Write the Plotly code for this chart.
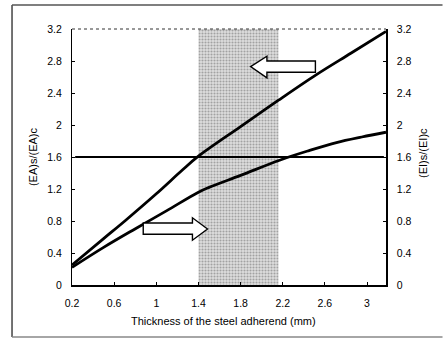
import plotly.graph_objects as go

# ---- data ----
ea_x = [0.2, 0.5, 0.71, 1.0, 1.25, 1.4, 1.8, 2.16, 2.52, 2.85, 3.18]
ea_y = [0.25, 0.58, 0.81, 1.14, 1.44, 1.61, 1.98, 2.31, 2.63, 2.90, 3.17]

ei_x = [0.2, 0.5, 0.81, 1.1, 1.4, 1.5, 1.8, 2.17, 2.45, 2.71, 2.95, 3.18]
ei_y = [0.22, 0.47, 0.71, 0.93, 1.16, 1.22, 1.37, 1.56, 1.68, 1.78, 1.85, 1.91]

ref_x = [0.23, 3.16]
ref_y = [1.6, 1.6]

band_x = [1.4, 2.16]

x_ticks = [0.2, 0.6, 1.0, 1.4, 1.8, 2.2, 2.6, 3.0]
x_ticktext = ["0.2", "0.6", "1", "1.4", "1.8", "2.2", "2.6", "3"]
y_ticks = [0, 0.4, 0.8, 1.2, 1.6, 2.0, 2.4, 2.8, 3.2]
y_ticktext = ["0", "0.4", "0.8", "1.2", "1.6", "2", "2.4", "2.8", "3.2"]

# arrow outlines (data coords)
arrow_left_x = [1.895, 2.05, 2.05, 2.51, 2.51, 2.05, 2.05, 1.895]
arrow_left_y = [2.73, 2.86, 2.80, 2.80, 2.66, 2.66, 2.59, 2.73]
arrow_right_x = [1.486, 1.343, 1.343, 0.876, 0.876, 1.343, 1.343, 1.486]
arrow_right_y = [0.70, 0.84, 0.775, 0.775, 0.635, 0.635, 0.56, 0.70]

FONT = "Liberation Sans, Arial, sans-serif"

fig = go.Figure()

# shaded band
fig.add_trace(go.Scatter(
    x=[band_x[0], band_x[1], band_x[1], band_x[0], band_x[0]],
    y=[0, 0, 3.2, 3.2, 0],
    mode="none", fill="toself",
    fillcolor="#d0d0d0",
    fillpattern=dict(shape=".", fgcolor="#666666", bgcolor="#dedede", size=3, solidity=0.4),
    hoverinfo="skip", showlegend=False))

fig.add_trace(go.Scatter(x=ref_x, y=ref_y, mode="lines",
                         line=dict(color="black", width=2), showlegend=False))
fig.add_trace(go.Scatter(x=ea_x, y=ea_y, mode="lines", line_shape="spline",
                         line=dict(color="black", width=2.8), showlegend=False))
fig.add_trace(go.Scatter(x=ei_x, y=ei_y, mode="lines", line_shape="spline", yaxis="y2",
                         line=dict(color="black", width=2.8), showlegend=False))

def arrow_path(xs, ys):
    p = "M %g,%g " % (xs[0], ys[0])
    for a, b in zip(xs[1:], ys[1:]):
        p += "L %g,%g " % (a, b)
    return p + "Z"

shapes = [
    dict(type="path", path=arrow_path(arrow_left_x, arrow_left_y), xref="x", yref="y",
         fillcolor="white", line=dict(color="black", width=1.4), layer="above"),
    dict(type="path", path=arrow_path(arrow_right_x, arrow_right_y), xref="x", yref="y",
         fillcolor="white", line=dict(color="black", width=1.4), layer="above"),
    dict(type="line", xref="paper", yref="paper", x0=0, x1=1, y0=1, y1=1,
         line=dict(color="#333", width=1, dash="dot")),
    dict(type="line", xref="paper", yref="paper", x0=-0.191, x1=-0.191, y0=-0.203, y1=1.094,
         line=dict(color="#444", width=1.5)),
    dict(type="line", xref="paper", yref="paper", x0=-0.191, x1=1.18, y0=1.094, y1=1.094,
         line=dict(color="#555", width=1.5)),
    dict(type="line", xref="paper", yref="paper", x0=-0.191, x1=1.18, y0=-0.203, y1=-0.203,
         line=dict(color="#888", width=1.5)),
]

title_font = dict(family=FONT, size=11, color="black")
annotations = [
    dict(text="Thickness of the steel adherend (mm)", xref="paper", yref="paper",
         x=0.481, y=-0.1406, xanchor="center", yanchor="middle",
         showarrow=False, font=title_font),
    dict(text="(EA)s/(EA)c", xref="paper", yref="paper", x=-0.124, y=0.5,
         xanchor="center", yanchor="middle", textangle=-90,
         showarrow=False, font=title_font),
    dict(text="(EI)s/(EI)c", xref="paper", yref="paper", x=1.118, y=0.516,
         xanchor="center", yanchor="middle", textangle=-90,
         showarrow=False, font=title_font),
]

axis_font = dict(family=FONT, size=10.5, color="black")

fig.update_layout(
    width=443, height=338,
    margin=dict(l=72, r=57, t=29, b=53),
    paper_bgcolor="white", plot_bgcolor="white",
    shapes=shapes, annotations=annotations,
    xaxis=dict(range=[0.2, 3.18], tickvals=x_ticks, ticktext=x_ticktext,
               ticks="inside", ticklen=3, tickcolor="black",
               showline=True, linecolor="black", linewidth=1.5,
               showgrid=False, zeroline=False, tickfont=axis_font,
               ticklabelstandoff=8),
    yaxis=dict(range=[0, 3.2], tickvals=y_ticks, ticktext=y_ticktext,
               ticks="inside", ticklen=3, tickcolor="black",
               showline=True, linecolor="black", linewidth=1,
               showgrid=False, zeroline=False, tickfont=axis_font,
               ticklabelstandoff=7),
    yaxis2=dict(range=[0, 3.2], tickvals=y_ticks, ticktext=y_ticktext,
                overlaying="y", side="right",
                ticks="inside", ticklen=3, tickcolor="black",
                showline=True, linecolor="black", linewidth=1.5,
                showgrid=False, zeroline=False, tickfont=axis_font,
                ticklabelstandoff=7),
)

fig.write_html("out.html")
